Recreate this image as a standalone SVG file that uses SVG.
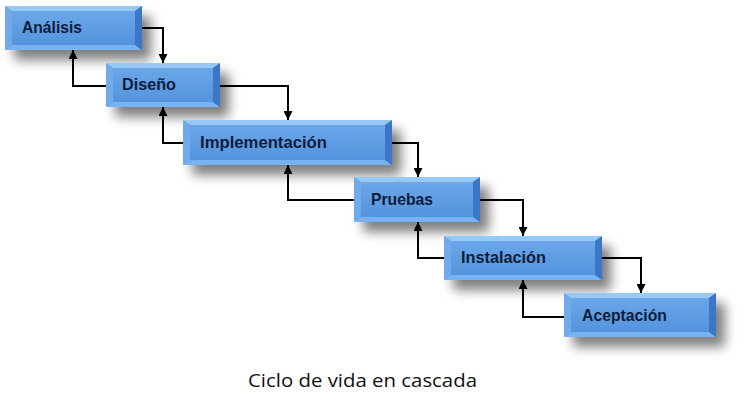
<svg xmlns="http://www.w3.org/2000/svg" width="756" height="400" viewBox="0 0 756 400">
<defs>
<linearGradient id="face" x1="0" y1="0" x2="0" y2="1">
<stop offset="0" stop-color="#6eaaea"/>
<stop offset="1" stop-color="#5190dc"/>
</linearGradient>
<filter id="sh" x="-20%" y="-50%" width="150%" height="220%">
<feGaussianBlur stdDeviation="6"/>
</filter>
<marker id="ah" viewBox="0 0 10 10" refX="10" refY="5" markerWidth="10" markerHeight="9" markerUnits="userSpaceOnUse" orient="auto">
<path d="M0,0 L10,5 L0,10 z" fill="#000"/>
</marker>
</defs>
<style>
.shadow{fill:#000;opacity:0.5;filter:url(#sh)}
.base{fill:url(#face)}
.top{fill:#98c8f4}
.bot{fill:#78b2f0}
.lft{fill:#70aaea}
.rgt{fill:#3c76c6}
.lbl{font-family:"Liberation Sans",Arial,sans-serif;font-weight:bold;font-size:17px;fill:#0f1c3c}
.conn{fill:none;stroke:#000;stroke-width:2;marker-end:url(#ah)}
.cap{font-family:"Open Sans","Liberation Sans",sans-serif;font-size:19px;fill:#111}
</style>
<rect width="756" height="400" fill="#fff"/>

<g id="connectors">
<polyline class="conn" points="142,28 163,28 163,63"/>
<polyline class="conn" points="106,86 73,86 73,50"/>
<polyline class="conn" points="220,86 288,86 288,120"/>
<polyline class="conn" points="183,143 163,143 163,107"/>
<polyline class="conn" points="392,143 418,143 418,177"/>
<polyline class="conn" points="354,200 288,200 288,165"/>
<polyline class="conn" points="480,200 523,200 523,236"/>
<polyline class="conn" points="444,258 418,258 418,222"/>
<polyline class="conn" points="602,258 641,258 641,293"/>
<polyline class="conn" points="564,317 523,317 523,280"/>
</g>

<g id="analisis">
<rect class="shadow" x="14" y="16" width="137" height="44" rx="3"/>
<rect class="base" x="5" y="6" width="137" height="44" rx="3"/>
<polygon class="top" points="5,6 142,6 135,11 12,11"/>
<polygon class="bot" points="5,50 142,50 135,45 12,45"/>
<polygon class="lft" points="5,6 12,11 12,45 5,50"/>
<polygon class="rgt" points="142,6 135,11 135,45 142,50"/>
<text class="lbl" x="22" y="33" textLength="60" lengthAdjust="spacingAndGlyphs">Análisis</text>
</g>

<g id="diseno">
<rect class="shadow" x="115" y="73" width="114" height="44" rx="3"/>
<rect class="base" x="106" y="63" width="114" height="44" rx="3"/>
<polygon class="top" points="106,63 220,63 213,68 113,68"/>
<polygon class="bot" points="106,107 220,107 213,102 113,102"/>
<polygon class="lft" points="106,63 113,68 113,102 106,107"/>
<polygon class="rgt" points="220,63 213,68 213,102 220,107"/>
<text class="lbl" x="122" y="90" textLength="54" lengthAdjust="spacingAndGlyphs">Diseño</text>
</g>

<g id="implementacion">
<rect class="shadow" x="192" y="130" width="209" height="45" rx="3"/>
<rect class="base" x="183" y="120" width="209" height="45" rx="3"/>
<polygon class="top" points="183,120 392,120 385,125 190,125"/>
<polygon class="bot" points="183,165 392,165 385,160 190,160"/>
<polygon class="lft" points="183,120 190,125 190,160 183,165"/>
<polygon class="rgt" points="392,120 385,125 385,160 392,165"/>
<text class="lbl" x="200" y="148" textLength="127" lengthAdjust="spacingAndGlyphs">Implementación</text>
</g>

<g id="pruebas">
<rect class="shadow" x="363" y="187" width="126" height="45" rx="3"/>
<rect class="base" x="354" y="177" width="126" height="45" rx="3"/>
<polygon class="top" points="354,177 480,177 473,182 361,182"/>
<polygon class="bot" points="354,222 480,222 473,217 361,217"/>
<polygon class="lft" points="354,177 361,182 361,217 354,222"/>
<polygon class="rgt" points="480,177 473,182 473,217 480,222"/>
<text class="lbl" x="371" y="205" textLength="62" lengthAdjust="spacingAndGlyphs">Pruebas</text>
</g>

<g id="instalacion">
<rect class="shadow" x="453" y="246" width="158" height="44" rx="3"/>
<rect class="base" x="444" y="236" width="158" height="44" rx="3"/>
<polygon class="top" points="444,236 602,236 595,241 451,241"/>
<polygon class="bot" points="444,280 602,280 595,275 451,275"/>
<polygon class="lft" points="444,236 451,241 451,275 444,280"/>
<polygon class="rgt" points="602,236 595,241 595,275 602,280"/>
<text class="lbl" x="461" y="263" textLength="85" lengthAdjust="spacingAndGlyphs">Instalación</text>
</g>

<g id="aceptacion">
<rect class="shadow" x="573" y="303" width="152" height="44" rx="3"/>
<rect class="base" x="564" y="293" width="152" height="44" rx="3"/>
<polygon class="top" points="564,293 716,293 709,298 571,298"/>
<polygon class="bot" points="564,337 716,337 709,332 571,332"/>
<polygon class="lft" points="564,293 571,298 571,332 564,337"/>
<polygon class="rgt" points="716,293 709,298 709,332 716,337"/>
<text class="lbl" x="582" y="321" textLength="85" lengthAdjust="spacingAndGlyphs">Aceptación</text>
</g>

<text class="cap" x="248" y="387" textLength="229" lengthAdjust="spacingAndGlyphs">Ciclo de vida en cascada</text>
</svg>
